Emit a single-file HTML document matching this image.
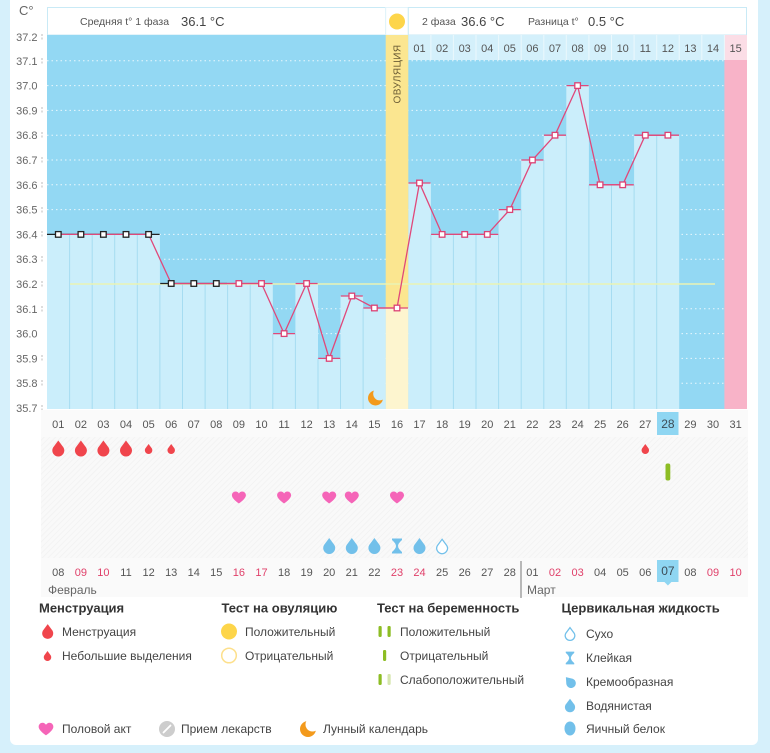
<!DOCTYPE html>
<html><head><meta charset="utf-8"><style>
html,body{margin:0;padding:0;background:#d6f0fb;}
svg{display:block;font-family:"Liberation Sans","DejaVu Sans",sans-serif;}
</style></head><body>
<svg width="770" height="753" viewBox="0 0 770 753" xmlns="http://www.w3.org/2000/svg">
<defs>
<path id="drop" d="M0,-8 L5.2,-1 A6 6 0 1 1 -5.2,-1 Z"/>
<path id="heart" d="M0,6 C0,6 -7,1.5 -7,-2.2 C-7,-4.4 -5.3,-6 -3.3,-6 C-1.9,-6 -0.7,-5.2 0,-4 C0.7,-5.2 1.9,-6 3.3,-6 C5.3,-6 7,-4.4 7,-2.2 C7,1.5 0,6 0,6Z"/>
<path id="hg" d="M-5,-7.5 H5 V-6 Q1,-2.5 1,0 Q1,2.5 5,6 V7.5 H-5 V6 Q-1,2.5 -1,0 Q-1,-2.5 -5,-6 Z"/>
<pattern id="hatch" width="4" height="4" patternUnits="userSpaceOnUse" patternTransform="rotate(45)"><rect width="4" height="4" fill="#f9f9f9"/><line x1="0" y1="0" x2="0" y2="4" stroke="#f1f1f1" stroke-width="1.4"/></pattern>
<mask id="m1" maskUnits="userSpaceOnUse" x="0" y="0" width="770" height="753"><rect width="770" height="753" fill="black"/><circle cx="375.5" cy="398" r="7.5" fill="white"/><circle cx="379.8" cy="393.8" r="6.6" fill="black"/></mask>
<mask id="m2" maskUnits="userSpaceOnUse" x="0" y="0" width="770" height="753"><rect width="770" height="753" fill="black"/><circle cx="308" cy="729" r="8" fill="white"/><circle cx="312.5" cy="724.5" r="7" fill="black"/></mask>
</defs>
<!-- card -->
<rect x="10" y="-10" width="748" height="755" rx="6" fill="#ffffff"/>

<!-- header -->
<rect x="47.5" y="7.5" width="338.2" height="27.5" fill="#fff" stroke="#c9eaf6"/>
<rect x="385.7" y="7.5" width="22.6" height="27.5" fill="#fff" stroke="#e3f4fb"/>
<rect x="408.3" y="7.5" width="338.2" height="27.5" fill="#fff" stroke="#c9eaf6"/>
<circle cx="397" cy="21.5" r="8" fill="#fdd54a"/>
<text x="80" y="25" font-size="10.5" fill="#555">Средняя t° 1 фаза</text>
<text x="181" y="26" font-size="13" fill="#444">36.1 °C</text>
<text x="422" y="25" font-size="10.5" fill="#555">2 фаза</text>
<text x="461" y="26" font-size="13" fill="#444">36.6 °C</text>
<text x="528" y="25" font-size="10.5" fill="#555">Разница t°</text>
<text x="588" y="26" font-size="13" fill="#444">0.5 °C</text>
<text x="19" y="15" font-size="13" fill="#666">C°</text>

<!-- plot background -->
<rect x="47" y="35" width="700" height="374" fill="#93d8f3"/>
<!-- dotted grid -->
<g stroke="#ffffff" stroke-opacity="0.8" stroke-dasharray="1.5 3" stroke-width="1">
<line x1="47" y1="60.8" x2="724" y2="60.8"/>
<line x1="47" y1="85.6" x2="724" y2="85.6"/>
<line x1="47" y1="110.4" x2="724" y2="110.4"/>
<line x1="47" y1="135.2" x2="724" y2="135.2"/>
<line x1="47" y1="160" x2="724" y2="160"/>
<line x1="47" y1="184.8" x2="724" y2="184.8"/>
<line x1="47" y1="209.6" x2="724" y2="209.6"/>
<line x1="47" y1="234.4" x2="724" y2="234.4"/>
<line x1="47" y1="259.2" x2="724" y2="259.2"/>
<line x1="47" y1="308.8" x2="724" y2="308.8"/>
<line x1="47" y1="333.6" x2="724" y2="333.6"/>
<line x1="47" y1="358.4" x2="724" y2="358.4"/>
<line x1="47" y1="383.2" x2="724" y2="383.2"/>
</g>
<!-- bars -->
<g fill="#cbeefb">
<rect x="47" y="234.4" width="112.9" height="174.6"/>
<rect x="159.9" y="283.5" width="112.9" height="125.5"/>
<rect x="272.8" y="333.6" width="22.6" height="75.4"/>
<rect x="295.4" y="283.5" width="22.6" height="125.5"/>
<rect x="318" y="358.4" width="22.5" height="50.6"/>
<rect x="340.5" y="296" width="22.6" height="113"/>
<rect x="363.1" y="308" width="22.6" height="101"/>
<rect x="408.3" y="183" width="22.6" height="226"/>
<rect x="430.9" y="234.4" width="67.7" height="174.6"/>
<rect x="498.6" y="209.6" width="22.6" height="199.4"/>
<rect x="521.2" y="160" width="22.6" height="249"/>
<rect x="543.8" y="135.2" width="22.5" height="273.8"/>
<rect x="566.3" y="85.6" width="22.6" height="323.4"/>
<rect x="588.9" y="184.8" width="45.2" height="224.2"/>
<rect x="634.1" y="135.2" width="45.1" height="273.8"/>
</g>
<!-- column lines -->
<g stroke="#a6dcf1" stroke-width="1">
<line x1="69.6" y1="234.4" x2="69.6" y2="409"/>
<line x1="92.2" y1="234.4" x2="92.2" y2="409"/>
<line x1="114.7" y1="234.4" x2="114.7" y2="409"/>
<line x1="137.3" y1="234.4" x2="137.3" y2="409"/>
<line x1="159.9" y1="283.5" x2="159.9" y2="409"/>
<line x1="182.5" y1="283.5" x2="182.5" y2="409"/>
<line x1="205.1" y1="283.5" x2="205.1" y2="409"/>
<line x1="227.6" y1="283.5" x2="227.6" y2="409"/>
<line x1="250.2" y1="283.5" x2="250.2" y2="409"/>
<line x1="272.8" y1="333.6" x2="272.8" y2="409"/>
<line x1="295.4" y1="333.6" x2="295.4" y2="409"/>
<line x1="318" y1="358.4" x2="318" y2="409"/>
<line x1="340.5" y1="358.4" x2="340.5" y2="409"/>
<line x1="363.1" y1="308" x2="363.1" y2="409"/>
<line x1="430.9" y1="234.4" x2="430.9" y2="409"/>
<line x1="453.4" y1="234.4" x2="453.4" y2="409"/>
<line x1="476" y1="234.4" x2="476" y2="409"/>
<line x1="498.6" y1="234.4" x2="498.6" y2="409"/>
<line x1="521.2" y1="209.6" x2="521.2" y2="409"/>
<line x1="543.8" y1="160" x2="543.8" y2="409"/>
<line x1="566.3" y1="135.2" x2="566.3" y2="409"/>
<line x1="588.9" y1="184.8" x2="588.9" y2="409"/>
<line x1="611.5" y1="184.8" x2="611.5" y2="409"/>
<line x1="634.1" y1="184.8" x2="634.1" y2="409"/>
<line x1="656.7" y1="135.2" x2="656.7" y2="409"/>
</g>
<!-- ovulation column -->
<rect x="385.7" y="35" width="22.6" height="273" fill="#fbe690"/>
<rect x="385.7" y="308" width="22.6" height="101" fill="#fdf5cf"/>
<text transform="translate(400.5,74) rotate(-90)" text-anchor="middle" font-size="10" letter-spacing="0.4" fill="#6b5d35">ОВУЛЯЦИЯ</text>
<!-- pink column -->
<rect x="724.4" y="60" width="22.6" height="349" fill="#f8b3c8"/>
<!-- cycle day header row -->
<rect x="408.3" y="35" width="316.1" height="25" fill="#d4f0fb"/>
<rect x="724.4" y="35" width="22.6" height="25" fill="#fbdde6"/>
<g stroke="#ebf8fd" stroke-width="1">
<line x1="430.9" y1="35" x2="430.9" y2="60"/><line x1="453.4" y1="35" x2="453.4" y2="60"/><line x1="476" y1="35" x2="476" y2="60"/><line x1="498.6" y1="35" x2="498.6" y2="60"/><line x1="521.2" y1="35" x2="521.2" y2="60"/><line x1="543.8" y1="35" x2="543.8" y2="60"/><line x1="566.3" y1="35" x2="566.3" y2="60"/><line x1="588.9" y1="35" x2="588.9" y2="60"/><line x1="611.5" y1="35" x2="611.5" y2="60"/><line x1="634.1" y1="35" x2="634.1" y2="60"/><line x1="656.7" y1="35" x2="656.7" y2="60"/><line x1="679.2" y1="35" x2="679.2" y2="60"/><line x1="701.8" y1="35" x2="701.8" y2="60"/><line x1="724.4" y1="35" x2="724.4" y2="60"/>
</g>
<g font-size="11" fill="#555" text-anchor="middle">
<text x="419.5" y="52">01</text><text x="442.1" y="52">02</text><text x="464.7" y="52">03</text><text x="487.3" y="52">04</text><text x="509.8" y="52">05</text><text x="532.4" y="52">06</text><text x="555" y="52">07</text><text x="577.6" y="52">08</text><text x="600.1" y="52">09</text><text x="622.7" y="52">10</text><text x="645.3" y="52">11</text><text x="667.9" y="52">12</text><text x="690.4" y="52">13</text><text x="713" y="52">14</text><text x="735.6" y="52">15</text>
</g>
<!-- coverline -->
<line x1="70" y1="284" x2="715" y2="284" stroke="#eaf3b4" stroke-width="1.6"/>
<!-- black horizontal segments -->
<g stroke="#222" stroke-width="1.3">
<line x1="47" y1="234.4" x2="159.6" y2="234.4"/>
<line x1="160.2" y1="283.5" x2="227.3" y2="283.5"/>
</g>
<!-- pink horizontal segments -->
<g stroke="#e0487a" stroke-width="1.3">
<line x1="227.9" y1="283.5" x2="272.5" y2="283.5"/>
<line x1="273.1" y1="333.6" x2="295.1" y2="333.6"/>
<line x1="295.6" y1="283.5" x2="317.6" y2="283.5"/>
<line x1="318.2" y1="358.4" x2="340.2" y2="358.4"/>
<line x1="340.8" y1="296" x2="362.8" y2="296"/>
<line x1="363.4" y1="308" x2="408" y2="308"/>
<line x1="408.5" y1="183" x2="430.5" y2="183"/>
<line x1="431.1" y1="234.4" x2="498.3" y2="234.4"/>
<line x1="498.8" y1="209.6" x2="520.8" y2="209.6"/>
<line x1="521.4" y1="160" x2="543.4" y2="160"/>
<line x1="544" y1="135.2" x2="566" y2="135.2"/>
<line x1="566.6" y1="85.6" x2="588.6" y2="85.6"/>
<line x1="589.1" y1="184.8" x2="633.8" y2="184.8"/>
<line x1="634.3" y1="135.2" x2="679" y2="135.2"/>
</g>
<!-- main line -->
<polyline fill="none" stroke="#e0487a" stroke-width="1.3" points="58.3,234.4 80.9,234.4 103.4,234.4 126,234.4 148.6,234.4 171.2,283.5 193.8,283.5 216.3,283.5 238.9,283.5 261.5,283.5 284.1,333.6 306.6,283.5 329.2,358.4 351.8,296 374.4,308 397,308 419.5,183 442.1,234.4 464.7,234.4 487.3,234.4 509.8,209.6 532.4,160 555,135.2 577.6,85.6 600.1,184.8 622.7,184.8 645.3,135.2 667.9,135.2"/>
<!-- markers -->
<g fill="#fff" stroke="#222" stroke-width="1.3">
<rect x="55.5" y="231.6" width="5.6" height="5.6"/><rect x="78.1" y="231.6" width="5.6" height="5.6"/><rect x="100.6" y="231.6" width="5.6" height="5.6"/><rect x="123.2" y="231.6" width="5.6" height="5.6"/><rect x="145.8" y="231.6" width="5.6" height="5.6"/>
<rect x="168.4" y="280.7" width="5.6" height="5.6"/><rect x="191" y="280.7" width="5.6" height="5.6"/><rect x="213.5" y="280.7" width="5.6" height="5.6"/>
</g>
<g fill="#fff" stroke="#dc4274" stroke-width="1.3">
<rect x="236.1" y="280.7" width="5.6" height="5.6"/><rect x="258.7" y="280.7" width="5.6" height="5.6"/><rect x="281.3" y="330.8" width="5.6" height="5.6"/><rect x="303.8" y="280.7" width="5.6" height="5.6"/><rect x="326.4" y="355.6" width="5.6" height="5.6"/><rect x="349" y="293.2" width="5.6" height="5.6"/><rect x="371.6" y="305.2" width="5.6" height="5.6"/><rect x="394.2" y="305.2" width="5.6" height="5.6"/><rect x="416.7" y="180.2" width="5.6" height="5.6"/><rect x="439.3" y="231.6" width="5.6" height="5.6"/><rect x="461.9" y="231.6" width="5.6" height="5.6"/><rect x="484.5" y="231.6" width="5.6" height="5.6"/><rect x="507" y="206.8" width="5.6" height="5.6"/><rect x="529.6" y="157.2" width="5.6" height="5.6"/><rect x="552.2" y="132.4" width="5.6" height="5.6"/><rect x="574.8" y="82.8" width="5.6" height="5.6"/><rect x="597.3" y="182" width="5.6" height="5.6"/><rect x="619.9" y="182" width="5.6" height="5.6"/><rect x="642.5" y="132.4" width="5.6" height="5.6"/><rect x="665.1" y="132.4" width="5.6" height="5.6"/>
</g>
<!-- moon in chart -->
<rect x="360" y="385" width="30" height="25" fill="#f39a1c" mask="url(#m1)"/>

<!-- y axis labels -->
<g font-size="11" fill="#666" text-anchor="end">
<text x="37.5" y="41">37.2</text><text x="37.5" y="65">37.1</text><text x="37.5" y="89.6">37.0</text><text x="37.5" y="114.4">36.9</text><text x="37.5" y="139.2">36.8</text><text x="37.5" y="164">36.7</text><text x="37.5" y="188.8">36.6</text><text x="37.5" y="213.6">36.5</text><text x="37.5" y="238.4">36.4</text><text x="37.5" y="263.2">36.3</text><text x="37.5" y="288">36.2</text><text x="37.5" y="312.8">36.1</text><text x="37.5" y="337.6">36.0</text><text x="37.5" y="362.4">35.9</text><text x="37.5" y="387.2">35.8</text><text x="37.5" y="412">35.7</text>
</g>
<g stroke="#bbb" stroke-width="1" stroke-dasharray="2 1.5">
<line x1="42" y1="34" x2="42" y2="40"/><line x1="42" y1="58" x2="42" y2="64"/><line x1="42" y1="107" x2="42" y2="113"/><line x1="42" y1="132" x2="42" y2="138"/><line x1="42" y1="157" x2="42" y2="163"/><line x1="42" y1="182" x2="42" y2="188"/><line x1="42" y1="207" x2="42" y2="213"/><line x1="42" y1="231" x2="42" y2="237"/><line x1="42" y1="256" x2="42" y2="262"/><line x1="42" y1="281" x2="42" y2="287"/><line x1="42" y1="306" x2="42" y2="312"/><line x1="42" y1="355" x2="42" y2="361"/><line x1="42" y1="380" x2="42" y2="386"/><line x1="42" y1="405" x2="42" y2="411"/>
</g>

<!-- bottom area -->
<rect x="41" y="410" width="707" height="187" fill="#fafafa"/>
<rect x="41" y="437" width="707" height="121" fill="url(#hatch)"/>
<rect x="657" y="412" width="21.5" height="23" fill="#8fd6f2"/>
<g font-size="11" fill="#555" text-anchor="middle">
<text x="58.3" y="428">01</text><text x="80.9" y="428">02</text><text x="103.4" y="428">03</text><text x="126" y="428">04</text><text x="148.6" y="428">05</text><text x="171.2" y="428">06</text><text x="193.8" y="428">07</text><text x="216.3" y="428">08</text><text x="238.9" y="428">09</text><text x="261.5" y="428">10</text><text x="284.1" y="428">11</text><text x="306.6" y="428">12</text><text x="329.2" y="428">13</text><text x="351.8" y="428">14</text><text x="374.4" y="428">15</text><text x="397" y="428">16</text><text x="419.5" y="428">17</text><text x="442.1" y="428">18</text><text x="464.7" y="428">19</text><text x="487.3" y="428">20</text><text x="509.8" y="428">21</text><text x="532.4" y="428">22</text><text x="555" y="428">23</text><text x="577.6" y="428">24</text><text x="600.1" y="428">25</text><text x="622.7" y="428">26</text><text x="645.3" y="428">27</text><text x="667.9" y="428" font-size="12" fill="#3d4b55">28</text><text x="690.4" y="428">29</text><text x="713" y="428">30</text><text x="735.6" y="428">31</text>
</g>
<!-- menstruation drops -->
<g fill="#f0454c">
<use href="#drop" transform="translate(58.3,448.5)"/>
<use href="#drop" transform="translate(80.9,448.5)"/>
<use href="#drop" transform="translate(103.4,448.5)"/>
<use href="#drop" transform="translate(126,448.5)"/>
<use href="#drop" transform="translate(148.6,449) scale(0.62)"/>
<use href="#drop" transform="translate(171.2,449) scale(0.62)"/>
<use href="#drop" transform="translate(645.3,449) scale(0.62)"/>
</g>
<!-- pregnancy test -->
<rect x="665.5" y="463.5" width="4.8" height="17" rx="2" fill="#8dbd24"/>
<!-- hearts -->
<g fill="#f565b8">
<use href="#heart" transform="translate(238.9,497.5)"/>
<use href="#heart" transform="translate(284.1,497.5)"/>
<use href="#heart" transform="translate(329.2,497.5)"/>
<use href="#heart" transform="translate(351.8,497.5)"/>
<use href="#heart" transform="translate(397,497.5)"/>
</g>
<!-- cervical -->
<g fill="#72c0ea">
<use href="#drop" transform="translate(329.2,546)"/>
<use href="#drop" transform="translate(351.8,546)"/>
<use href="#drop" transform="translate(374.4,546)"/>
<use href="#hg" transform="translate(397,546)"/>
<use href="#drop" transform="translate(419.5,546)"/>
</g>
<use href="#drop" transform="translate(442.1,546.5) scale(0.9)" fill="#fff" stroke="#72c0ea" stroke-width="1.4"/>
<!-- dates row -->
<rect x="657" y="560" width="21.5" height="22" fill="#8fd6f2"/>
<polygon points="664.4,582 671.4,582 667.9,585.5" fill="#8fd6f2"/>
<g font-size="11" fill="#555" text-anchor="middle">
<text x="58.3" y="576">08</text><text x="80.9" y="576" fill="#e0406a">09</text><text x="103.4" y="576" fill="#e0406a">10</text><text x="126" y="576">11</text><text x="148.6" y="576">12</text><text x="171.2" y="576">13</text><text x="193.8" y="576">14</text><text x="216.3" y="576">15</text><text x="238.9" y="576" fill="#e0406a">16</text><text x="261.5" y="576" fill="#e0406a">17</text><text x="284.1" y="576">18</text><text x="306.6" y="576">19</text><text x="329.2" y="576">20</text><text x="351.8" y="576">21</text><text x="374.4" y="576">22</text><text x="397" y="576" fill="#e0406a">23</text><text x="419.5" y="576" fill="#e0406a">24</text><text x="442.1" y="576">25</text><text x="464.7" y="576">26</text><text x="487.3" y="576">27</text><text x="509.8" y="576">28</text><text x="532.4" y="576">01</text><text x="555" y="576" fill="#e0406a">02</text><text x="577.6" y="576" fill="#e0406a">03</text><text x="600.1" y="576">04</text><text x="622.7" y="576">05</text><text x="645.3" y="576">06</text><text x="667.9" y="575" font-size="12" fill="#3d4b55">07</text><text x="690.4" y="576">08</text><text x="713" y="576" fill="#e0406a">09</text><text x="735.6" y="576" fill="#e0406a">10</text>
</g>
<line x1="521" y1="561" x2="521" y2="598" stroke="#777" stroke-width="1"/>
<text x="48" y="594" font-size="12" fill="#666">Февраль</text>
<text x="527" y="594" font-size="12" fill="#666">Март</text>

<!-- legend -->
<g font-size="13" font-weight="bold" fill="#333">
<text x="39" y="612.5">Менструация</text>
<text x="221.5" y="612.5">Тест на овуляцию</text>
<text x="377" y="612.5">Тест на беременность</text>
<text x="561.5" y="612.5">Цервикальная жидкость</text>
</g>
<g font-size="12" fill="#444">
<text x="62" y="636">Менструация</text>
<text x="62" y="660">Небольшие выделения</text>
<text x="245" y="636">Положительный</text>
<text x="245" y="660">Отрицательный</text>
<text x="400" y="636">Положительный</text>
<text x="400" y="660">Отрицательный</text>
<text x="400" y="684">Слабоположительный</text>
<text x="586" y="638">Сухо</text>
<text x="586" y="662">Клейкая</text>
<text x="586" y="686">Кремообразная</text>
<text x="586" y="710">Водянистая</text>
<text x="586" y="733">Яичный белок</text>
<text x="62" y="733">Половой акт</text>
<text x="181" y="733">Прием лекарств</text>
<text x="323" y="733">Лунный календарь</text>
</g>
<use href="#drop" transform="translate(47.7,631.5) scale(0.92)" fill="#f0454c"/>
<use href="#drop" transform="translate(47.5,656) scale(0.62)" fill="#f0454c"/>
<circle cx="229" cy="631.5" r="8" fill="#fdd54a"/>
<circle cx="229" cy="655.5" r="7.3" fill="#fff" stroke="#fde08c" stroke-width="1.5"/>
<rect x="378.5" y="626" width="3.2" height="11" rx="1.2" fill="#8dbd24"/>
<rect x="387.5" y="626" width="3.2" height="11" rx="1.2" fill="#8dbd24"/>
<rect x="383" y="650" width="3.2" height="11" rx="1.2" fill="#8dbd24"/>
<rect x="378.5" y="674" width="3.2" height="11" rx="1.2" fill="#8dbd24"/>
<rect x="387.5" y="674" width="3.2" height="11" rx="1.2" fill="#d7e7b0"/>
<use href="#drop" transform="translate(570,634) scale(0.8)" fill="#fff" stroke="#72c0ea" stroke-width="1.6"/>
<use href="#hg" transform="translate(570,658) scale(0.85)" fill="#72c0ea"/>
<use href="#drop" transform="translate(570,682) rotate(-40) scale(0.8)" fill="#72c0ea"/>
<use href="#drop" transform="translate(570,705.5) scale(0.85)" fill="#72c0ea"/>
<ellipse cx="570" cy="728.5" rx="5.5" ry="7" fill="#72c0ea"/>
<use href="#heart" transform="translate(46,729) scale(1.05)" fill="#f565b8"/>
<circle cx="167" cy="729" r="8" fill="#cdcdcd"/>
<line x1="163.5" y1="732.5" x2="170.5" y2="725.5" stroke="#fff" stroke-width="1.8" stroke-linecap="round"/>
<rect x="298" y="719" width="20" height="20" fill="#f39a1c" mask="url(#m2)"/>
</svg>
</body></html>
